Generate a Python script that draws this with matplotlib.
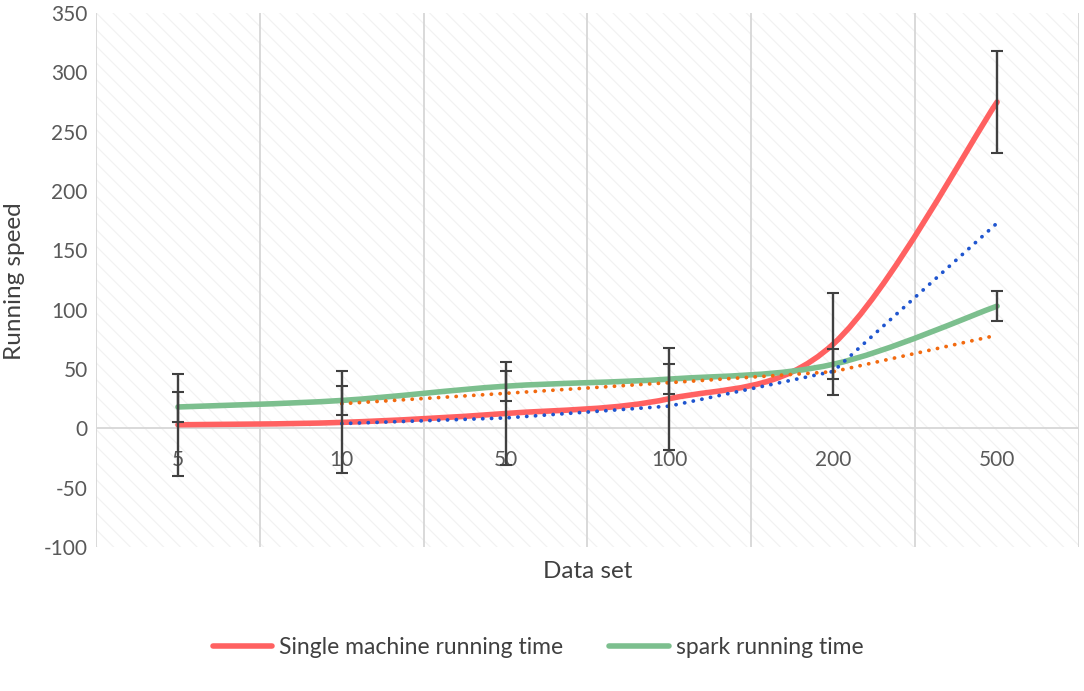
import numpy as np
import matplotlib
matplotlib.use("Agg")
import matplotlib.pyplot as plt
from matplotlib.path import Path
from matplotlib.patches import PathPatch, Rectangle
from matplotlib.lines import Line2D

# ---- data ----
categories = ["5", "10", "50", "100", "200", "500"]
single_machine = [3, 5, 12.5, 25, 71, 275]
spark = [18, 23.5, 35.5, 41.5, 54, 103]
single_err = 43
spark_err = 12.5
y_ticks = [-100, -50, 0, 50, 100, 150, 200, 250, 300, 350]

RED = "#FF6161"
GREEN = "#7CBF8E"
BLUE = "#1F55CF"
ORANGE = "#F26A10"
GRID = "#D9D9D9"
TXT = "#595959"

plt.rcParams['font.family'] = ['Lato', 'DejaVu Sans']
plt.rcParams['hatch.color'] = '#F2F2F2'
plt.rcParams['hatch.linewidth'] = 0.8

fig = plt.figure(figsize=(10.84, 6.91), dpi=100)
ax = fig.add_axes([96/1084, 1-547/691, (1079-96)/1084, (547-13)/691])

ax.set_xlim(-0.5, 5.5)
ax.set_ylim(-100, 350)
for s in ax.spines.values():
    s.set_visible(False)

# hatched background
ax.add_patch(Rectangle((0, 0), 1, 1, transform=ax.transAxes, facecolor='white',
                       edgecolor='#F2F2F2', hatch='\\\\', lw=0, zorder=0))

# vertical gridlines at category boundaries
for b in np.arange(-0.5, 6.0, 1.0):
    ax.axvline(b, color=GRID, lw=1.4, zorder=1)
ax.axhline(0, color=GRID, lw=1.4, zorder=1)

x = np.arange(len(categories))


def smooth_path(xs, ys):
    pts = np.column_stack([xs, ys]).astype(float)
    n = len(pts)
    verts = [pts[0]]
    codes = [Path.MOVETO]
    for i in range(n - 1):
        p0 = pts[i - 1] if i > 0 else pts[i]
        p1 = pts[i]
        p2 = pts[i + 1]
        p3 = pts[i + 2] if i + 2 < n else pts[i + 1]
        c1 = p1 + (p2 - p0) / 6.0
        c2 = p2 - (p3 - p1) / 6.0
        verts += [c1, c2, p2]
        codes += [Path.CURVE4] * 3
    return Path(verts, codes)


ax.add_patch(PathPatch(smooth_path(x, single_machine), fill=False, edgecolor=RED,
                       lw=4, capstyle='round', joinstyle='round', zorder=3))
ax.add_patch(PathPatch(smooth_path(x, spark), fill=False, edgecolor=GREEN,
                       lw=4, capstyle='round', joinstyle='round', zorder=3))

# 2-period moving average trendlines
sm = np.array(single_machine, dtype=float)
sp = np.array(spark, dtype=float)
ma_single = (sm[1:] + sm[:-1]) / 2
ma_spark = (sp[1:] + sp[:-1]) / 2
ax.plot(x[1:], ma_single, color=BLUE, lw=2.7, linestyle=(0, (0.05, 2.3)),
        dash_capstyle='round', zorder=4)
ax.plot(x[1:], ma_spark, color=ORANGE, lw=2.7, linestyle=(0, (0.05, 2.3)),
        dash_capstyle='round', zorder=4)

# error bars
ax.errorbar(x, single_machine, yerr=single_err, fmt='none', ecolor='#404040',
            elinewidth=1.7, capsize=4.5, capthick=1.5, zorder=5)
ax.errorbar(x, spark, yerr=spark_err, fmt='none', ecolor='#404040',
            elinewidth=1.7, capsize=4.5, capthick=1.5, zorder=5)

# ticks
ax.set_xticks([])
ax.set_yticks(y_ticks)
ax.set_yticklabels([str(v) for v in y_ticks], color=TXT, fontsize=15)
ax.tick_params(axis='y', length=0, pad=6)
for i, c in enumerate(categories):
    ax.text(i, -27, c, ha='center', va='center', color=TXT, fontsize=15, zorder=2)

fig.text(15/1084, 1-281/691, "Running speed", rotation=90, ha='center', va='center',
         color='#404040', fontsize=17.5)
fig.text(588/1084, 1-572/691, "Data set", ha='center', va='center',
         color='#404040', fontsize=17.5)

handles = [Line2D([], [], color=RED, lw=4, solid_capstyle='round'),
           Line2D([], [], color=GREEN, lw=4, solid_capstyle='round')]
fig.legend(handles, ["Single machine running time", "spark running time"],
           loc='center', bbox_to_anchor=(538/1084, 1-648/691), ncol=2, frameon=False,
           fontsize=16.5, handlelength=2.6, handletextpad=0.3, columnspacing=2.0,
           labelcolor='#404040')

fig.savefig("out.png", dpi=100)
